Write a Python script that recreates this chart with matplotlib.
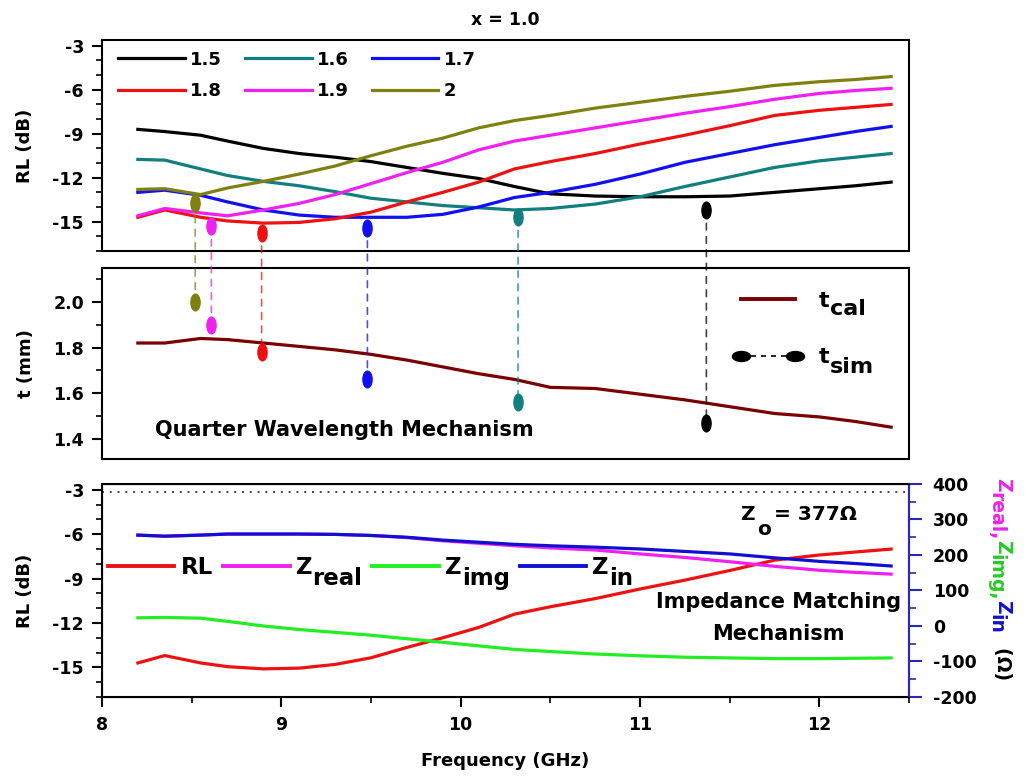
import matplotlib
matplotlib.use("Agg")
import matplotlib.pyplot as plt
from matplotlib.lines import Line2D
from matplotlib.path import Path
from matplotlib.transforms import Affine2D, IdentityTransform
from matplotlib.patches import ConnectionPatch
from matplotlib.ticker import MultipleLocator, FormatStrFormatter

plt.rcParams['font.family'] = ['DejaVu Sans']
plt.rcParams['font.weight'] = 'bold'
plt.rcParams['axes.unicode_minus'] = False

# frequency grid (GHz)
freq = [8.2, 8.35, 8.55, 8.7, 8.9, 9.1, 9.3, 9.5, 9.7, 9.9, 10.1, 10.3,
        10.5, 10.75, 11.0, 11.25, 11.5, 11.75, 12.0, 12.2, 12.4]

# RL (dB) for thickness 1.5 ... 2 mm
rl_15 = [-8.7, -8.85, -9.1, -9.5, -10.0, -10.35, -10.6, -10.9, -11.3, -11.7, -12.05, -12.6,
         -13.1, -13.25, -13.3, -13.3, -13.25, -13.0, -12.75, -12.55, -12.3]
rl_16 = [-10.75, -10.8, -11.4, -11.85, -12.25, -12.55, -12.95, -13.4, -13.65, -13.9, -14.05, -14.2,
         -14.1, -13.8, -13.3, -12.6, -11.95, -11.3, -10.85, -10.6, -10.35]
rl_17 = [-13.0, -12.85, -13.2, -13.65, -14.2, -14.55, -14.7, -14.7, -14.7, -14.5, -14.0, -13.35,
         -13.0, -12.45, -11.75, -10.95, -10.35, -9.75, -9.25, -8.85, -8.5]
rl_18 = [-14.7, -14.2, -14.7, -14.95, -15.1, -15.05, -14.8, -14.35, -13.65, -13.0, -12.3, -11.4,
         -10.9, -10.35, -9.7, -9.1, -8.45, -7.75, -7.4, -7.2, -7.0]
rl_19 = [-14.6, -14.1, -14.4, -14.6, -14.2, -13.75, -13.15, -12.4, -11.65, -10.95, -10.1, -9.5,
         -9.1, -8.6, -8.1, -7.6, -7.15, -6.65, -6.25, -6.05, -5.9]
rl_20 = [-12.8, -12.75, -13.15, -12.7, -12.25, -11.75, -11.2, -10.5, -9.85, -9.3, -8.6, -8.1,
         -7.75, -7.25, -6.85, -6.45, -6.1, -5.7, -5.45, -5.3, -5.1]
rl_series = [rl_15, rl_16, rl_17, rl_18, rl_19, rl_20]
thick_labels = ['1.5', '1.6', '1.7', '1.8', '1.9', '2']
thick_colors = ['#000000', '#127f7f', '#1010f0', '#ee1111', '#f020f0', '#808010']

# calculated quarter-wavelength thickness (mm)
t_cal = [1.82, 1.82, 1.84, 1.835, 1.82, 1.805, 1.79, 1.77, 1.745, 1.715, 1.685, 1.66,
         1.625, 1.62, 1.595, 1.57, 1.54, 1.51, 1.495, 1.475, 1.45]

# simulated matching points
sim_freq = [11.37, 10.32, 9.48, 8.89, 8.61, 8.52]
sim_rl = [-14.2, -14.7, -15.4, -15.75, -15.3, -13.7]
t_sim = [1.47, 1.56, 1.66, 1.78, 1.90, 2.00]

# impedance (ohm) for x = 1.0, t = 1.8 mm
z_in = [256, 253, 256, 259, 259, 259, 258, 255, 250, 242, 236, 230,
        226, 222, 217, 210, 203, 192, 182, 176, 169]
z_real = [256, 253, 256, 259, 259, 259, 258, 255, 249, 240, 233, 226,
          220, 214, 203, 193, 181, 168, 157, 151, 146]
z_img = [23, 24, 22, 13, 0, -10, -18, -26, -36, -46, -56, -66,
         -72, -79, -84, -88, -90, -92, -92, -91, -90]
z0 = 377

RED, MAG, GRN, BLU = '#ee1111', '#f020f0', '#22ee22', '#1010d0'
AXBLUE = '#2a2ab0'

ellipse = Path.unit_circle().transformed(Affine2D().scale(0.55, 1.0))
ellipse_h = Path.unit_circle().transformed(Affine2D().scale(1.0, 0.55))

fig = plt.figure(figsize=(10.31, 7.79), dpi=100)
ax1 = fig.add_axes([0.0989, 0.6778, 0.7828, 0.2709])
ax2 = fig.add_axes([0.0989, 0.4108, 0.7828, 0.2452])
ax3 = fig.add_axes([0.0989, 0.1053, 0.7828, 0.2734])

for ax in (ax1, ax2, ax3):
    ax.set_xlim(8, 12.5)
    for s in ax.spines.values():
        s.set_linewidth(1.5)
    ax.tick_params(axis='y', which='major', direction='out', length=7, width=1.5,
                   labelsize=12.5, pad=6)
    ax.tick_params(axis='y', which='minor', direction='out', length=4.5, width=1.2)
    ax.tick_params(axis='x', which='major', direction='out', length=7, width=1.5,
                   labelsize=12.5, pad=7)
    ax.tick_params(axis='x', which='minor', direction='out', length=4.5, width=1.2)
    ax.xaxis.set_major_locator(MultipleLocator(1))
    ax.xaxis.set_minor_locator(MultipleLocator(0.5))

# ---- top panel
lines = []
for vals, lab, c in zip(rl_series, thick_labels, thick_colors):
    ln, = ax1.plot(freq, vals, color=c, lw=2.3, label=lab)
    lines.append(ln)
for f, r, c in zip(sim_freq, sim_rl, thick_colors):
    ax1.plot(f, r, marker=ellipse, ms=12, color=c, ls='none')
ax1.set_ylim(-17, -2.6)
ax1.yaxis.set_major_locator(MultipleLocator(3))
ax1.yaxis.set_minor_locator(MultipleLocator(1))
ax1.tick_params(axis='x', which='both', bottom=False, labelbottom=False)
ax1.set_ylabel('RL (dB)', fontsize=13, fontweight='bold', labelpad=13)
ax1.set_title('x = 1.0', fontsize=12.5, fontweight='bold', pad=11)
order = [0, 3, 1, 4, 2, 5]  # row-wise filling
ax1.legend([lines[i] for i in order], [thick_labels[i] for i in order], ncol=3,
           loc='upper left', bbox_to_anchor=(0.02, 0.95), frameon=False, borderpad=0,
           borderaxespad=0, fontsize=13, handlelength=3.7, handletextpad=0.3,
           columnspacing=1.25, labelspacing=0.75)

# ---- middle panel
ax2.plot(freq, t_cal, color='#7a0000', lw=2.3)
for f, r, t, c in zip(sim_freq, sim_rl, t_sim, thick_colors):
    ax2.plot(f, t, marker=ellipse, ms=12, color=c, ls='none')
    con = ConnectionPatch(xyA=(f, r), coordsA=ax1.transData,
                          xyB=(f, t), coordsB=ax2.transData,
                          color=c, lw=1.2, ls=(0, (4, 4)), alpha=0.75)
    fig.add_artist(con)
ax2.set_ylim(1.31, 2.15)
ax2.yaxis.set_major_locator(MultipleLocator(0.2))
ax2.yaxis.set_minor_locator(MultipleLocator(0.1))
ax2.yaxis.set_major_formatter(FormatStrFormatter('%.1f'))
ax2.tick_params(axis='x', which='both', bottom=False, labelbottom=False)
ax2.set_ylabel('t (mm)', fontsize=13, fontweight='bold', labelpad=13)
ax2.text(8.295, 1.413, 'Quarter Wavelength Mechanism', fontsize=15, fontweight='bold',
         va='baseline')
h_cal = Line2D([], [], color='#7a0000', lw=2.8)
h_sim = Line2D([], [], color='k', lw=1.2, ls=(0, (3, 3)), marker=ellipse_h, ms=13)
leg2 = ax2.legend([h_cal, h_sim], ['tcal', 'tsim'], loc='center left',
                  bbox_to_anchor=(0.784, 0.68), frameon=False, borderpad=0, borderaxespad=0,
                  fontsize=16, handlelength=3.0, numpoints=2, labelspacing=1.65,
                  handletextpad=0.8)

# ---- bottom panel
ax3.plot(freq, rl_18, color=RED, lw=2.3)
ax3.set_ylim(-17, -2.6)
ax3.yaxis.set_major_locator(MultipleLocator(3))
ax3.yaxis.set_minor_locator(MultipleLocator(1))
ax3.set_ylabel('RL (dB)', fontsize=13, fontweight='bold', labelpad=13)
ax3.set_xlabel('Frequency (GHz)', fontsize=13, fontweight='bold', labelpad=13)

axr = ax3.twinx()
axr.plot(freq, z_real, color=MAG, lw=2.3)
axr.plot(freq, z_img, color=GRN, lw=2.3)
axr.plot(freq, z_in, color=BLU, lw=2.3)
axr.axhline(z0, color='#444444', lw=1.4, ls=(0, (1, 3)))
axr.set_ylim(-200, 400)
axr.yaxis.set_major_locator(MultipleLocator(100))
axr.yaxis.set_minor_locator(MultipleLocator(50))
axr.spines['right'].set_color(AXBLUE)
axr.spines['right'].set_linewidth(1.5)
axr.tick_params(axis='y', which='major', direction='out', length=9, width=1.5,
                color=AXBLUE, labelsize=12.5, pad=8)
axr.tick_params(axis='y', which='minor', direction='out', length=5, width=1.2, color=AXBLUE)
axr.text(11.77, 22, 'Impedance Matching\nMechanism', fontsize=15, fontweight='bold',
         ha='center', va='center', linespacing=1.75)

leg_handles = [Line2D([], [], color=c, lw=2.8) for c in (RED, MAG, GRN, BLU)]
leg3 = axr.legend(leg_handles, ['RL', 'Zreal', 'Zimg', 'Zin'], ncol=4, loc='center left',
                  bbox_to_anchor=(0.0074, 0.61), frameon=False, borderpad=0, borderaxespad=0,
                  fontsize=16.5, handlelength=2.9, handletextpad=0.27, columnspacing=0.45)

# ---- subscripts drawn at full size, as in the original
fig.canvas.draw()
renderer = fig.canvas.get_renderer()
disp = IdentityTransform()


def put(x, y, s, color, fs, **kw):
    t = fig.text(x, y, s, color=color, fontsize=fs, fontweight='bold',
                 transform=disp, **kw)
    return t, t.get_window_extent(renderer)


def sub_over_legend(leg, idx, base, sub, fs, dy):
    txt = leg.get_texts()[idx]
    bb = txt.get_window_extent(renderer)
    txt.set_visible(False)
    _, b1 = put(bb.x0, bb.y0, base, 'black', fs, ha='left', va='bottom')
    put(b1.x1, bb.y0 - dy, sub, 'black', fs, ha='left', va='bottom')


sub_over_legend(leg2, 0, 't', 'cal', 16, 8)
sub_over_legend(leg2, 1, 't', 'sim', 16, 10)
sub_over_legend(leg3, 1, 'Z', 'real', 16.5, 11)
sub_over_legend(leg3, 2, 'Z', 'img', 16.5, 11)
sub_over_legend(leg3, 3, 'Z', 'in', 16.5, 11)

# Z_o = 377 ohm label
zx, zy = 740, 779 - 520
_, b = put(zx, zy, 'Z', 'black', 14.5, ha='left', va='baseline')
_, b = put(b.x1 + 3, zy - 15, 'o', 'black', 14.5, ha='left', va='baseline')
put(b.x1 + 3, zy, '= 377Ω', 'black', 14.5, ha='left', va='baseline')

# right axis label in coloured pieces, read top to bottom
parts = [('Z', MAG, 0), ('real,', MAG, 7), ('Z', '#22cc22', 0), ('img,', '#22cc22', 7),
         ('Z', BLU, 0), ('in', BLU, 7), ('  (Ω)', 'black', 0)]
x_base = 997
y_px = 779 - 478
for s, c, dy in parts:
    _, bb = put(x_base - dy, y_px, s, c, 13.5, rotation=270, rotation_mode='anchor',
                ha='left', va='baseline')
    y_px -= bb.height

fig.savefig('out.png', dpi=100)
